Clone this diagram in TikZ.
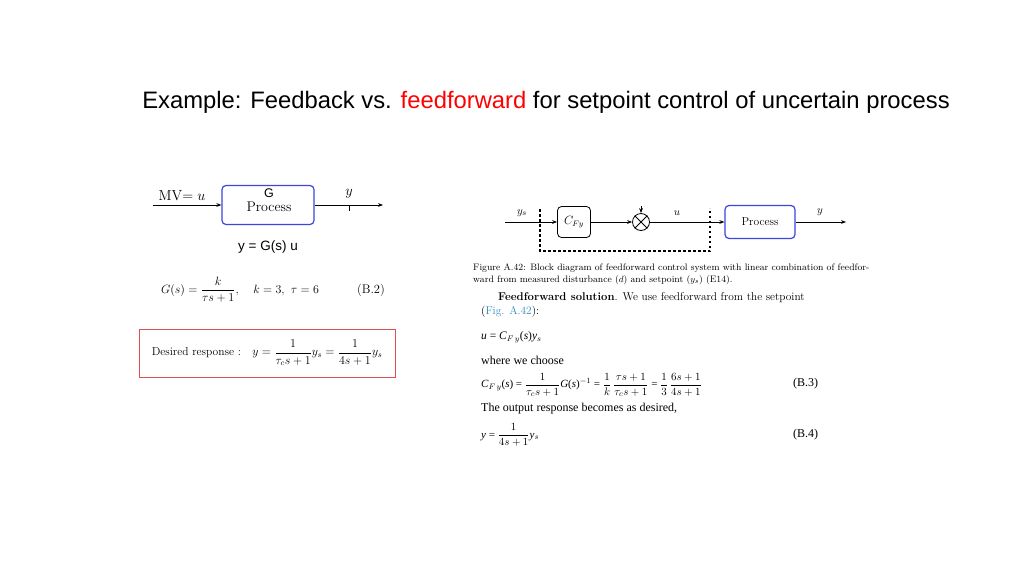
\documentclass[tikz,border=0pt]{standalone}
\usepackage{amsmath}
\usepackage{fontspec}
\newfontfamily\sans{Liberation Sans}
\newfontfamily\tms{Liberation Serif}
\usetikzlibrary{arrows.meta}
\definecolor{pblue}{RGB}{60,70,220}
\definecolor{figc}{RGB}{40,140,190}
\definecolor{rbx}{RGB}{225,80,80}
\tikzset{
  blk/.style={draw=pblue,line width=1.2pt,rounded corners=4pt,fill=white},
  cblk/.style={draw=black,line width=0.8pt,rounded corners=4pt},
  sig/.style={-{Stealth[length=5pt]},line width=0.8pt},
  dotl/.style={line width=2pt,dash pattern=on 2.5pt off 2.5pt},
  txt/.style={inner sep=0pt,anchor=west},
}
\begin{document}
\begin{tikzpicture}[x=1pt,y=-1pt]
\useasboundingbox[fill=white] (0,0) rectangle (1024,576);
\node[inner sep=0pt] (title) at (546,102) {\sans\fontsize{23.8}{27}\selectfont Example: Feedback vs. \textcolor{red}{feedforward} for setpoint control of uncertain process};
% left block diagram
\coordinate (lin) at (153,205);
\node[blk,minimum width=92pt,minimum height=39pt] (lp) at (268,205) {};
\node[inner sep=0pt] (lg) at (269,193) {\sans\fontsize{12.5}{15}\selectfont G};
\node[inner sep=0pt] (lpt) at (269,207) {\fontsize{14}{15}\selectfont Process};
\coordinate (lout) at (383,205);
\draw[sig] (lin) -- (lp.west);
\draw[sig] (lp.east) -- (lout);
\node[inner sep=0pt] (mv) at (182,196) {\fontsize{14.5}{16}\selectfont MV$=u$};
\node[inner sep=0pt] (ly) at (349,194) {\fontsize{14}{16}\selectfont $y$};
\coordinate (t1) at (349,205); \coordinate (t2) at (349,211);
\draw[line width=1pt] (t1) -- (t2);
\node[inner sep=0pt] (yg) at (268,247) {\sans\fontsize{13.5}{16}\selectfont y = G(s) u};
\node[inner sep=0pt] (geq) at (240,290) {\fontsize{12.5}{14}\selectfont $G(s)=\dfrac{k}{\tau s+1},\quad k=3,\ \tau=6$};
\node[inner sep=0pt] (b2) at (371,290) {\fontsize{12.5}{14}\selectfont (B.2)};
\node[draw=rbx,line width=0.9pt,minimum width=256pt,minimum height=48pt] (rbox) at (267,353) {};
\node[inner sep=0pt] (des) at (267,353) {\fontsize{11.5}{13}\selectfont Desired response :\quad $y=\dfrac{1}{\tau_c s+1}y_s=\dfrac{1}{4s+1}y_s$};
% right block diagram
\coordinate (rin) at (505,222);
\node[cblk,minimum width=33pt,minimum height=31pt] (cf) at (574,222) {\fontsize{11.5}{13}\selectfont $C_{Fy}$};
\node[draw,circle,minimum size=17pt,line width=0.8pt,inner sep=0pt] (sum) at (641,222) {};
\draw[line width=0.8pt] (sum.north west) -- (sum.south east) (sum.north east) -- (sum.south west);
\coordinate (stop) at (641,206);
\node[blk,minimum width=70pt,minimum height=33pt] (rp) at (760,222) {\fontsize{11.5}{13}\selectfont Process};
\coordinate (rout) at (846,222);
\draw[sig] (rin) -- (cf.west);
\draw[sig] (cf.east) -- (sum.west);
\draw[sig] (stop) -- (sum.north);
\draw[sig] (sum.east) -- (rp.west);
\draw[sig] (rp.east) -- (rout);
\node[inner sep=0pt] (ys) at (522,213) {\fontsize{11}{13}\selectfont $y_s$};
\node[inner sep=0pt] (ru) at (677,213) {\fontsize{11}{13}\selectfont $u$};
\node[inner sep=0pt] (ry) at (820,212) {\fontsize{11}{13}\selectfont $y$};
\coordinate (d1) at (540,209); \coordinate (d2) at (540,251);
\coordinate (d3) at (710,251); \coordinate (d4) at (710,208);
\draw[dotl] (d1) -- (d2) -- (d3) -- (d4);
% caption and text
\node[txt] (cap1) at (473,268) {\fontsize{9.4}{11}\selectfont Figure A.42: Block diagram of feedforward control system with linear combination of feedfor-};
\node[txt] (cap2) at (473,280) {\fontsize{9.4}{11}\selectfont ward from measured disturbance ($d$) and setpoint ($y_s$) (E14).};
\node[txt] (ff) at (498,298) {\fontsize{11.3}{13}\selectfont \textbf{Feedforward solution}. We use feedforward from the setpoint};
\node[txt] (fig) at (481,312) {\fontsize{11.3}{13}\selectfont (\textcolor{figc}{Fig. A.42}):};
\node[txt] (eq1) at (481,337) {\tms\fontsize{11.5}{13}\selectfont \textit{u} = \textit{C}$_{F\,y}$(\textit{s})\textit{y}$_s$};
\node[txt] (wwc) at (481,360) {\tms\fontsize{12}{14}\selectfont where we choose};
\node[txt] (eq3) at (481,385) {\tms\fontsize{11}{13}\selectfont \textit{C}$_{F\,y}$(\textit{s}) = $\dfrac{1}{\tau_c s+1}$\textit{G}(\textit{s})$^{-1}$ = $\dfrac{1}{k}\,\dfrac{\tau s+1}{\tau_c s+1}$ = $\dfrac{1}{3}\,\dfrac{6s+1}{4s+1}$};
\node[txt] (b3) at (793,384) {\tms\fontsize{12}{14}\selectfont (B.3)};
\node[txt] (out) at (481,409) {\tms\fontsize{12}{14}\selectfont The output response becomes as desired,};
\node[txt] (eq4) at (481,435) {\tms\fontsize{11}{13}\selectfont \textit{y} = $\dfrac{1}{4s+1}$\textit{y}$_s$};
\node[txt] (b4) at (793,435) {\tms\fontsize{12}{14}\selectfont (B.4)};
\end{tikzpicture}
\end{document}
